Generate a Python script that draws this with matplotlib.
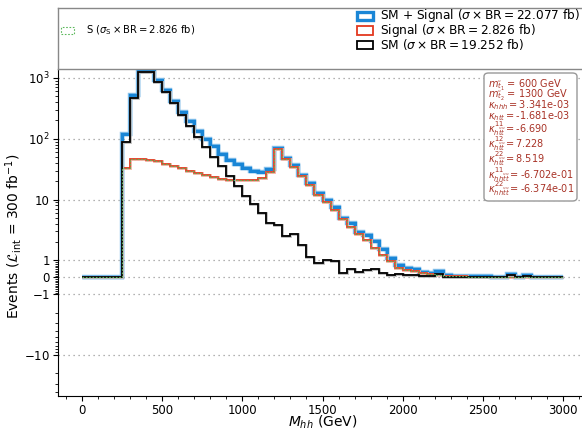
import numpy as np
import matplotlib
matplotlib.use("Agg")
import matplotlib.pyplot as plt
import matplotlib.patheffects as pe
from matplotlib.ticker import FixedLocator
from matplotlib.patches import Rectangle, FancyBboxPatch

# ---------------- data ----------------
bin_edges = np.arange(0, 3001, 50)

sm_events = [0, 0, 0, 0, 0,
             88, 475, 1260, 1235, 870, 583, 385, 246, 165, 107,
             72, 51, 35, 24, 17, 11.6, 8.6, 6.0, 4.1, 3.8,
             2.5, 2.7, 1.8, 1.15, 0.82, 1.02, 0.95, 0.24, 0.5, 0.31,
             0.43, 0.5, 0.27, 0.12, 0.18, 0.14, 0.14, 0.08, 0.08, 0.22,
             0.03, 0.02, 0.03, 0.01, 0.02, 0.03, 0.01, 0.02, 0.13, 0.01,
             0.08, 0.02, 0.01, 0.02, 0.01]

signal_events = [0, 0, 0, 0, 0,
                 33, 46.5, 47, 45, 42.5, 39, 36, 33, 30, 27.6,
                 25.7, 23.8, 21.8, 21, 21, 21, 21.3, 22.7, 28, 67.6,
                 46.5, 34, 24, 17.6, 12, 9.0, 6.7, 4.8, 3.6, 2.67,
                 2.2, 1.6, 1.25, 0.98, 0.57, 0.41, 0.37, 0.24, 0.18, 0.14,
                 0.10, 0.08, 0.06, 0.05, 0.05, 0.04, 0.04, 0.03, 0.04, 0.03,
                 0.03, 0.02, 0.02, 0.02, 0.02]

total_events = list(np.array(sm_events) + np.array(signal_events))

legend_labels = [r"SM + Signal ($\sigma \times \mathrm{BR} = 22.077$ fb)",
                 r"Signal ($\sigma \times \mathrm{BR} = 2.826$ fb)",
                 r"SM ($\sigma \times \mathrm{BR} = 19.252$ fb)"]
s_label = r"S ($\sigma_{\mathrm{S}} \times \mathrm{BR} = 2.826$ fb)"

param_lines = [r"$m_{\tilde{t}_1}$ = 600 GeV",
               r"$m_{\tilde{t}_2}$ = 1300 GeV",
               r"$\kappa_{hhh} = 3.341$e-03",
               r"$\kappa_{htt} = $-1.681e-03",
               r"$\kappa_{h\tilde{t}\tilde{t}}^{11} = $-6.690",
               r"$\kappa_{h\tilde{t}\tilde{t}}^{12} = 7.228$",
               r"$\kappa_{h\tilde{t}\tilde{t}}^{22} = 8.519$",
               r"$\kappa_{hh\tilde{t}\tilde{t}}^{11} = $-6.702e-01",
               r"$\kappa_{hh\tilde{t}\tilde{t}}^{22} = $-6.374e-01"]

ytick_vals = [-10, -1, 0, 1, 10, 100, 1000]
ytick_labels = [r"$-10$", r"$-1$", "0", "1", "10", r"$10^2$", r"$10^3$"]
xtick_vals = [0, 500, 1000, 1500, 2000, 2500, 3000]

# ---------------- figure ----------------
W, H = 582, 430
fig = plt.figure(figsize=(W / 100, H / 100), dpi=100)

def fx(p):
    return p / W

def fy(p):
    return 1 - p / H

ax = fig.add_axes([fx(57.5), fy(396), fx(587.5) - fx(57.5), fy(69) - fy(396)])
ax_leg = fig.add_axes([fx(57.5), fy(69), fx(590) - fx(57.5), fy(7.5) - fy(69)])

blue = "#1a86d6"
red = "#e3381f"
green = "#5cb85c"

ax.stairs(total_events, bin_edges, color=blue, lw=2.4, zorder=2,
          path_effects=[pe.Stroke(linewidth=3.2, foreground="#8cc4ec"), pe.Normal()])
ax.stairs(signal_events, bin_edges, color=red, lw=1.2, zorder=3,
          path_effects=[pe.Stroke(linewidth=2.0, foreground="#f4b0a4"), pe.Normal()])
ax.stairs(sm_events, bin_edges, color="black", lw=1.3, zorder=4,
          path_effects=[pe.Stroke(linewidth=2.0, foreground="#bbbbbb"), pe.Normal()])
ax.stairs(signal_events, bin_edges, color=green, lw=0.8,
          linestyle=(0, (1.5, 1.5)), zorder=5)

ax.set_yscale("symlog", linthresh=1, linscale=0.25)
ax.set_ylim(-47, 1400)
ax.set_xlim(-150, 3150)

ax.set_yticks(ytick_vals)
ax.set_yticklabels(ytick_labels)
minor_y = []
for d in [1, 10, 100, 1000]:
    for k in range(2, 10):
        v = k * d
        if v < 1400:
            minor_y.append(v)
        if v < 47:
            minor_y.append(-v)
for k in range(1, 10):
    minor_y += [k / 10, -k / 10]
ax.yaxis.set_minor_locator(FixedLocator(minor_y))

ax.set_xticks(xtick_vals)
ax.xaxis.set_minor_locator(FixedLocator(np.arange(-100, 3101, 100)))
ax.tick_params(axis="both", which="major", labelsize=8.5, length=3.5, width=0.8, pad=2)
ax.tick_params(axis="both", which="minor", length=2, width=0.6)

ax.grid(axis="y", which="major", linestyle=(0, (1, 3)), color="#999999", lw=0.9)
ax.set_axisbelow(True)

ax.spines["top"].set_visible(False)
ax.spines["right"].set_visible(False)

ax.set_xlabel(r"$M_{hh}$ (GeV)", fontsize=10, labelpad=-2)
ax.set_ylabel(r"Events ($\mathcal{L}_{\mathrm{int}}$ = 300 fb$^{-1}$)", fontsize=10)
ax.yaxis.set_label_coords((24 - 57.5) / 530, 0.49)

# parameter box
box = FancyBboxPatch((fx(484), fy(201)), fx(577) - fx(484), fy(73) - fy(201),
                     boxstyle="round,pad=0,rounding_size=0.008",
                     transform=fig.transFigure, fc="white", ec="#999999", lw=1,
                     zorder=10)
fig.add_artist(box)
baselines = [87.5, 98, 108.5, 119, 133, 148, 163.5, 179, 193]
for line, b in zip(param_lines, baselines):
    fig.text(fx(487.5), fy(b), line, ha="left", va="baseline",
             fontsize=7.0, color="#a83226", zorder=11)

# legend panel (drawn by hand so the rows sit where the reference has them)
ax_leg.set_xticks([])
ax_leg.set_yticks([])
for sp in ax_leg.spines.values():
    sp.set_color("#888888")
    sp.set_linewidth(1.0)

styles = [dict(ec=blue, lw=2.4, ls="-"),
          dict(ec=red, lw=1.3, ls="-"),
          dict(ec="black", lw=1.3, ls="-")]
rows_y = [16, 30.5, 45]
for lab, st, yc in zip(legend_labels, styles, rows_y):
    r = Rectangle((fx(357), fy(yc + 4)), fx(373) - fx(357), fy(yc - 4) - fy(yc + 4),
                  transform=fig.transFigure, fc="white", ec=st["ec"], lw=st["lw"],
                  ls=st["ls"])
    fig.add_artist(r)
    fig.text(fx(380), fy(yc), lab, ha="left", va="center", fontsize=8.7)

r = Rectangle((fx(61), fy(34)), fx(74) - fx(61), fy(27) - fy(34),
              transform=fig.transFigure, fc="white", ec=green, lw=0.8,
              ls=(0, (1.5, 1.5)))
fig.add_artist(r)
fig.text(fx(86), fy(30.5), s_label, ha="left", va="center", fontsize=7.2)

fig.savefig("out.png", dpi=100)
